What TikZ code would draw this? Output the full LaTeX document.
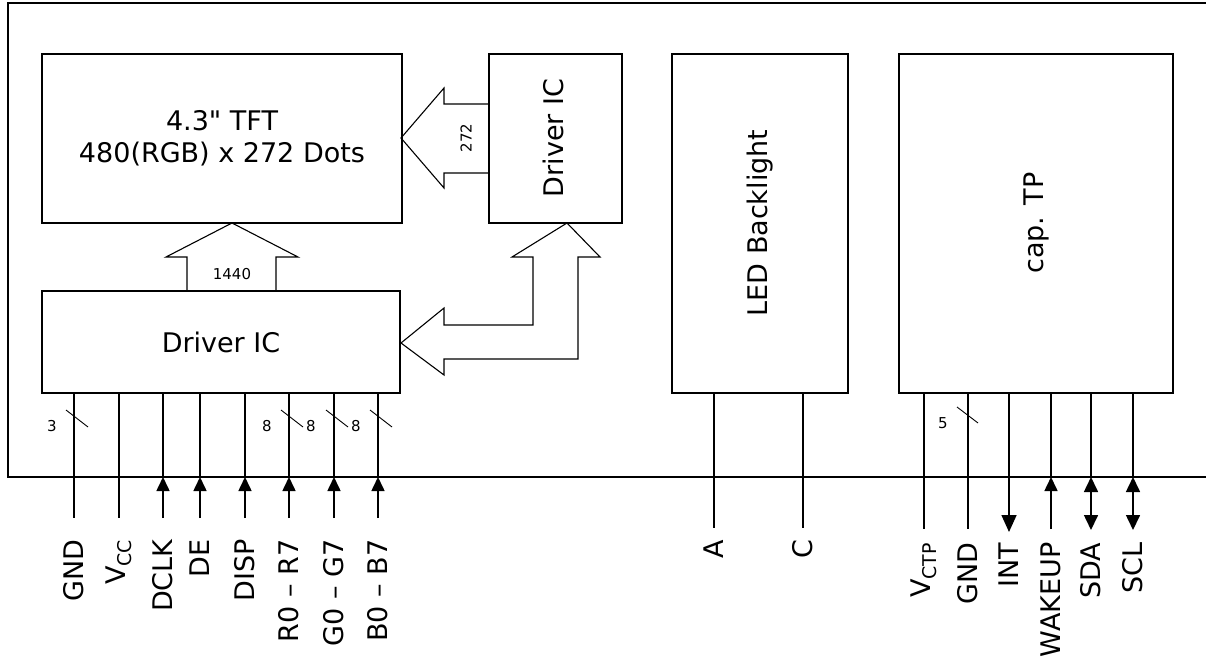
\documentclass[tikz,border=0pt]{standalone}
\usepackage{fontspec}
\setmainfont{DejaVu Sans}
\newfontfamily\qfont{DejaVu Sans}
\usetikzlibrary{arrows.meta}
\begin{document}
\begin{tikzpicture}[x=1pt,y=-1pt, line width=1.1pt,
  box/.style={draw, line width=1.1pt, inner sep=0pt, align=center},
  big/.style={font=\fontsize{27}{32}\selectfont},
  small/.style={font=\fontsize{15}{17}\selectfont, inner sep=0pt},
  pinlbl/.style={big, rotate=90, anchor=east, inner sep=0pt},
  wire/.style={line width=1.1pt},
  sig/.style={line width=1.6pt},
  uptip/.style={sig, -{Triangle[length=14pt,width=13pt]}},
  dntip/.style={sig, -{Triangle[length=17pt,width=15pt]}},
  bitip/.style={sig, {Triangle[length=15pt,width=14pt]}-{Triangle[length=15pt,width=14pt]}},
  blk/.style={draw, line width=1.1pt, line join=miter}
]
\useasboundingbox (0,0) rectangle (1206,658);
% outer frame
\draw[wire] (1206,3) -- (8,3) -- (8,477) -- (1206,477);

% boxes
\node[box, big, minimum width=360pt, minimum height=169pt] (tft) at (222,138.5) {4.3{\qfont "} TFT\\480(RGB) x 272 Dots};
\node[box, minimum width=133pt, minimum height=169pt] (drvtop) at (555.5,138.5) {};
\node[big, rotate=90] (drvtoplbl) at (553,138) {Driver IC};
\node[box, big, minimum width=358pt, minimum height=102pt] (drvbot) at (221,342) {Driver IC};
\node[box, minimum width=176pt, minimum height=339pt] (led) at (760,223.5) {};
\node[big, rotate=90] (ledlbl) at (760,223) {LED Backlight};
\node[box, minimum width=274pt, minimum height=339pt] (ctp) at (1036,223.5) {};
\node[big, rotate=90] (ctplbl) at (1036,223) {cap. TP};

% block arrow 272
\draw[blk] (401,138) -- (444,88) -- (444,104) -- (489,104) -- (489,173) -- (444,173) -- (444,188) -- cycle;
\node[small, rotate=90] (n272) at (466,138) {272};
% block arrow 1440
\draw[blk] (232,223) -- (298,257) -- (276,257) -- (276,291) -- (187,291) -- (187,257) -- (166,257) -- cycle;
\node[small] (n1440) at (232,274) {1440};
% bidirectional bus
\draw[blk] (401,343) -- (444,308) -- (444,325) -- (533,325) -- (533,257) -- (512,257) -- (567,223) -- (600,257) -- (578,257) -- (578,359) -- (444,359) -- (444,375) -- cycle;

% left pins
\foreach \n/\x in {gnd/74, vcc/119} {
  \draw[wire] (\x,393) -- (\x,518);
}
\foreach \n/\x in {dclk/163, de/200, disp/245, r/289, g/334, b/378} {
  \draw[wire] (\x,393) -- (\x,477);
  \draw[uptip] (\x,518) -- (\x,477);
}
% bus slashes
\foreach \x in {74,289,334,378} {
  \draw[line width=0.9pt] (\x-8,410) -- (\x+14,427);
}
\node[small] (l3) at (52,426) {3};
\node[small] (l8a) at (267,426) {8};
\node[small] (l8b) at (311,426) {8};
\node[small] (l8c) at (356,426) {8};

% left labels
\node[pinlbl] (tgnd) at (74,539) {GND};
\node[pinlbl] (tvcc) at (119,539) {V\textsubscript{CC}};
\node[pinlbl] (tdclk) at (163,539) {DCLK};
\node[pinlbl] (tde) at (200,539) {DE};
\node[pinlbl] (tdisp) at (245,539) {DISP};
\node[pinlbl] (tr) at (289,539) {R0 – R7};
\node[pinlbl] (tg) at (334,539) {G0 – G7};
\node[pinlbl] (tb) at (378,539) {B0 – B7};

% LED pins
\draw[wire] (714,393) -- (714,528);
\draw[wire] (803,393) -- (803,528);
\node[pinlbl] (ta) at (714,539) {A};
\node[pinlbl] (tc) at (803,539) {C};

% CTP pins
\draw[wire] (924,393) -- (924,529);
\draw[wire] (968,393) -- (968,529);
\draw[line width=0.9pt] (957,407) -- (978,423);
\node[small] (l5) at (943,423) {5};
\draw[wire] (1009,393) -- (1009,477);
\draw[dntip] (1009,477) -- (1009,532);
\draw[wire] (1051,393) -- (1051,477);
\draw[uptip] (1051,529) -- (1051,477);
\draw[wire] (1091,393) -- (1091,477);
\draw[bitip] (1091,477) -- (1091,530);
\draw[wire] (1133,393) -- (1133,477);
\draw[bitip] (1133,477) -- (1133,530);

\node[pinlbl] (tvctp) at (924,542) {V\textsubscript{CTP}};
\node[pinlbl] (tgnd2) at (968,542) {GND};
\node[pinlbl] (tint) at (1009,542) {INT};
\node[pinlbl] (twake) at (1051,542) {WAKEUP};
\node[pinlbl] (tsda) at (1091,542) {SDA};
\node[pinlbl] (tscl) at (1133,542) {SCL};
\end{tikzpicture}
\end{document}
